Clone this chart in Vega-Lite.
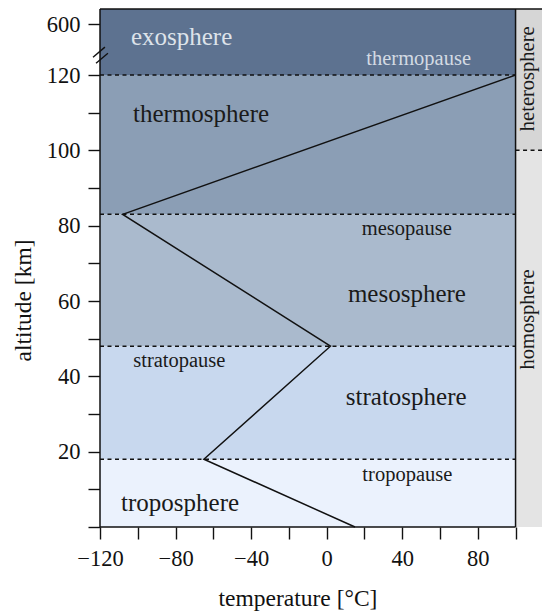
{
  "$schema": "https://vega.github.io/schema/vega-lite/v6.json",
  "width": 442,
  "height": 518,
  "autosize": {"type": "none"},
  "padding": {"left": 100, "top": 9, "right": 0, "bottom": 85},
  "background": "white",
  "config": {"view": {"stroke": null}, "font": "'Liberation Serif', 'Times New Roman', Tinos, 'DejaVu Serif', serif"},
  "datasets": {
    "bands": [
      {"layer": "troposphere", "bottom": 0, "top": 18},
      {"layer": "stratosphere", "bottom": 18, "top": 48},
      {"layer": "mesosphere", "bottom": 48, "top": 83},
      {"layer": "thermosphere", "bottom": 83, "top": 120},
      {"layer": "exosphere", "bottom": 120, "top": 750}
    ],
    "spheres": [
      {"name": "homosphere", "bottom": 0, "top": 100, "t1": 100, "t2": 114},
      {"name": "heterosphere", "bottom": 100, "top": 750, "t1": 100, "t2": 114}
    ],
    "profile": [
      {"temp": 15, "alt": 0},
      {"temp": -65, "alt": 18},
      {"temp": 2, "alt": 48},
      {"temp": -108, "alt": 83},
      {"temp": 100, "alt": 120}
    ],
    "pauses": [
      {"name": "tropopause", "alt": 18, "t1": -120, "t2": 100},
      {"name": "stratopause", "alt": 48, "t1": -120, "t2": 100},
      {"name": "mesopause", "alt": 83, "t1": -120, "t2": 100},
      {"name": "thermopause", "alt": 120, "t1": -120, "t2": 100},
      {"name": "turbopause", "alt": 100, "t1": 100, "t2": 114}
    ],
    "frame": [
      {"t1": -120, "t2": -120, "a1": 0, "a2": 750},
      {"t1": -120, "t2": 100, "a1": 0, "a2": 0},
      {"t1": 100, "t2": 100, "a1": 0, "a2": 750},
      {"t1": -120, "t2": 114, "a1": 750, "a2": 750}
    ],
    "breaks": [
      {"t1": -123.7, "t2": -117.4, "a1": 288.6, "a2": 383.8},
      {"t1": -122.1, "t2": -115.8, "a1": 231.4, "a2": 326.7}
    ],
    "labels": [
      {"name": "exosphere", "temp": -76.8, "alt": 403, "kind": "bigLight"},
      {"name": "thermosphere", "temp": -66.5, "alt": 107.5, "kind": "big"},
      {"name": "mesosphere", "temp": 42.5, "alt": 59.7, "kind": "big"},
      {"name": "stratosphere", "temp": 42.1, "alt": 32.3, "kind": "big"},
      {"name": "troposphere", "temp": -77.6, "alt": 4.2, "kind": "big"},
      {"name": "thermopause", "temp": 48.7, "alt": 212, "kind": "smallLight"},
      {"name": "mesopause", "temp": 42.4, "alt": 77.4, "kind": "small"},
      {"name": "stratopause", "temp": -78, "alt": 42.5, "kind": "small"},
      {"name": "tropopause", "temp": 42.7, "alt": 12.2, "kind": "small"},
      {"name": "heterosphere", "temp": 110, "alt": 119, "kind": "side"},
      {"name": "homosphere", "temp": 110, "alt": 55.1, "kind": "side"}
    ]
  },
  "layer": [
    {
      "data": {"name": "bands"},
      "mark": {"type": "rect"},
      "encoding": {
        "x": {
          "datum": -120, "type": "quantitative",
          "scale": {"domain": [-120, 114], "nice": false, "zero": false},
          "axis": {
            "title": "temperature [°C]",
            "values": [-120, -100, -80, -60, -40, -20, 0, 20, 40, 60, 80, 100],
            "tickCount": 12,
            "labelExpr": "datum.value % 40 === 0 ? datum.label : ''",
            "domain": false, "grid": false,
            "tickSize": 12, "tickWidth": 1.4, "tickColor": "#111",
            "labelFontSize": 22.5, "labelColor": "#111", "labelPadding": 8,
            "labelFlush": false, "labelOverlap": false, "labelBound": false,
            "titleFontSize": 23.5, "titleFontWeight": "normal", "titleColor": "#111",
            "titleX": 197.5, "titleY": 78, "titleBaseline": "alphabetic", "titleAlign": "center"
          }
        },
        "x2": {"datum": 100},
        "y": {
          "field": "bottom", "type": "quantitative",
          "scale": {"domain": [0, 120, 600, 750], "range": [518, 66, 15.3, 0], "nice": false, "zero": false},
          "axis": {
            "title": "altitude [km]",
            "values": [0, 10, 20, 30, 40, 50, 60, 70, 80, 90, 100, 110, 120, 600],
            "tickCount": 14,
            "labelExpr": "datum.value % 20 === 0 && datum.value > 0 ? datum.label : ''",
            "domain": false, "grid": false,
            "tickSize": 12, "tickWidth": 1.4, "tickColor": "#111",
            "labelFontSize": 22.5, "labelColor": "#111", "labelPadding": 8,
            "labelFlush": false, "labelOverlap": false, "labelBound": false,
            "titleFontSize": 23.5, "titleFontWeight": "normal", "titleColor": "#111",
            "titleAngle": 270, "titleX": -70, "titleY": 291, "titleBaseline": "alphabetic", "titleAlign": "center"
          }
        },
        "y2": {"field": "top"},
        "color": {
          "field": "layer", "type": "nominal", "legend": null,
          "scale": {
            "domain": ["troposphere", "stratosphere", "mesosphere", "thermosphere", "exosphere"],
            "range": ["#ebf2fd", "#c8d8ee", "#aabacd", "#8b9eb5", "#5d7290"]
          }
        }
      }
    },
    {
      "data": {"name": "spheres"},
      "mark": {"type": "rect"},
      "encoding": {
        "x": {"field": "t1", "type": "quantitative", "scale": {"domain": [-120, 114], "nice": false, "zero": false}},
        "x2": {"field": "t2"},
        "y": {"field": "bottom", "type": "quantitative", "scale": {"domain": [0, 120, 600, 750], "range": [518, 66, 15.3, 0], "nice": false, "zero": false}},
        "y2": {"field": "top"},
        "fill": {"condition": {"test": "datum.name === 'heterosphere'", "value": "#d6d6d6"}, "value": "#e4e4e4"}
      }
    },
    {
      "data": {"name": "pauses"},
      "mark": {"type": "rule", "color": "#111", "strokeWidth": 1.5, "strokeDash": [4, 3.5]},
      "encoding": {
        "x": {"field": "t1", "type": "quantitative", "scale": {"domain": [-120, 114], "nice": false, "zero": false}},
        "x2": {"field": "t2"},
        "y": {"field": "alt", "type": "quantitative", "scale": {"domain": [0, 120, 600, 750], "range": [518, 66, 15.3, 0], "nice": false, "zero": false}}
      }
    },
    {
      "data": {"name": "profile"},
      "mark": {"type": "line", "color": "#111", "strokeWidth": 1.5},
      "encoding": {
        "x": {"field": "temp", "type": "quantitative", "scale": {"domain": [-120, 114], "nice": false, "zero": false}},
        "y": {"field": "alt", "type": "quantitative", "scale": {"domain": [0, 120, 600, 750], "range": [518, 66, 15.3, 0], "nice": false, "zero": false}},
        "order": {"field": "alt", "type": "quantitative"}
      }
    },
    {
      "data": {"name": "frame"},
      "mark": {"type": "rule", "color": "#111", "strokeWidth": 1.5},
      "encoding": {
        "x": {"field": "t1", "type": "quantitative", "scale": {"domain": [-120, 114], "nice": false, "zero": false}},
        "x2": {"field": "t2"},
        "y": {"field": "a1", "type": "quantitative", "scale": {"domain": [0, 120, 600, 750], "range": [518, 66, 15.3, 0], "nice": false, "zero": false}},
        "y2": {"field": "a2"}
      }
    },
    {
      "data": {"name": "breaks"},
      "mark": {"type": "rule", "color": "#111", "strokeWidth": 1.4},
      "encoding": {
        "x": {"field": "t1", "type": "quantitative", "scale": {"domain": [-120, 114], "nice": false, "zero": false}},
        "x2": {"field": "t2"},
        "y": {"field": "a1", "type": "quantitative", "scale": {"domain": [0, 120, 600, 750], "range": [518, 66, 15.3, 0], "nice": false, "zero": false}},
        "y2": {"field": "a2"}
      }
    },
    {
      "data": {"name": "labels"},
      "transform": [{"filter": "datum.kind === 'big' || datum.kind === 'bigLight'"}],
      "mark": {"type": "text", "fontSize": 25, "align": "center", "baseline": "alphabetic"},
      "encoding": {
        "x": {"field": "temp", "type": "quantitative", "scale": {"domain": [-120, 114], "nice": false, "zero": false}},
        "y": {"field": "alt", "type": "quantitative", "scale": {"domain": [0, 120, 600, 750], "range": [518, 66, 15.3, 0], "nice": false, "zero": false}},
        "text": {"field": "name"},
        "fill": {"condition": {"test": "datum.kind === 'bigLight'", "value": "#dde3ea"}, "value": "#1a1a1a"}
      }
    },
    {
      "data": {"name": "labels"},
      "transform": [{"filter": "datum.kind === 'small' || datum.kind === 'smallLight'"}],
      "mark": {"type": "text", "fontSize": 20.5, "align": "center", "baseline": "alphabetic"},
      "encoding": {
        "x": {"field": "temp", "type": "quantitative", "scale": {"domain": [-120, 114], "nice": false, "zero": false}},
        "y": {"field": "alt", "type": "quantitative", "scale": {"domain": [0, 120, 600, 750], "range": [518, 66, 15.3, 0], "nice": false, "zero": false}},
        "text": {"field": "name"},
        "fill": {"condition": {"test": "datum.kind === 'smallLight'", "value": "#d3dae3"}, "value": "#1a1a1a"}
      }
    },
    {
      "data": {"name": "labels"},
      "transform": [{"filter": "datum.kind === 'side'"}],
      "mark": {"type": "text", "fontSize": 20.5, "align": "center", "baseline": "alphabetic", "angle": 270, "color": "#1a1a1a"},
      "encoding": {
        "x": {"field": "temp", "type": "quantitative", "scale": {"domain": [-120, 114], "nice": false, "zero": false}},
        "y": {"field": "alt", "type": "quantitative", "scale": {"domain": [0, 120, 600, 750], "range": [518, 66, 15.3, 0], "nice": false, "zero": false}},
        "text": {"field": "name"}
      }
    }
  ]
}
